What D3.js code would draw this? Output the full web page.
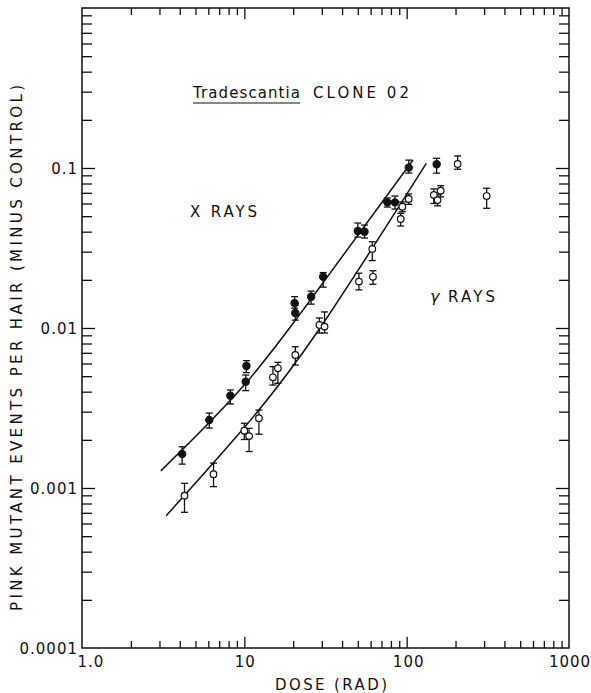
<!DOCTYPE html>
<html>
<head>
<meta charset="utf-8">
<script src="https://cdn.jsdelivr.net/npm/d3@7/dist/d3.min.js"></script>
<style>
html,body{margin:0;padding:0;background:#fff;}
svg{display:block;}
text{font-family:"DejaVu Sans",sans-serif;fill:#111;}
</style>
</head>
<body>
<svg id="chart" width="591" height="693"></svg>
<script>
// ---- data ----
// X rays (filled circles): dose (rad), value, lower, upper
const xrayDose  = [4.14, 6.08, 8.2, 10.2, 10.3, 20.4, 20.6, 25.8, 30.6, 50, 55, 76, 84.7, 103, 153];
const xrayValue = [0.00163, 0.00266, 0.00377, 0.00462, 0.00579, 0.0143, 0.0124, 0.0157, 0.0209, 0.0404, 0.0400, 0.061, 0.061, 0.1005, 0.1055];
const xrayLow   = [0.00141, 0.00237, 0.00335, 0.00406, 0.00526, 0.0133, 0.0112, 0.0141, 0.0180, 0.0370, 0.0365, 0.0570, 0.0554, 0.093, 0.0928];
const xrayHigh  = [0.00181, 0.00294, 0.00410, 0.00508, 0.00625, 0.0157, 0.0139, 0.0170, 0.0222, 0.0453, 0.0440, 0.0650, 0.0668, 0.112, 0.115];

// gamma rays (open circles)
const gammaDose  = [4.28, 6.46, 10.0, 10.7, 12.3, 15.0, 16.1, 20.6, 29.0, 31.2, 50.8, 62, 61.4, 91.9, 94, 103, 147, 162, 155, 206, 311];
const gammaValue = [0.000895, 0.00122, 0.00228, 0.00211, 0.00273, 0.00492, 0.0056, 0.00678, 0.01045, 0.0102, 0.0195, 0.0209, 0.0312, 0.048, 0.0573, 0.064, 0.0678, 0.0722, 0.063, 0.106, 0.0668];
const gammaLow   = [0.000705, 0.00102, 0.00201, 0.00169, 0.00217, 0.0044, 0.00451, 0.00587, 0.0093, 0.0093, 0.0173, 0.01876, 0.0264, 0.0434, 0.0533, 0.0593, 0.060, 0.0660, 0.0580, 0.0982, 0.056];
const gammaHigh  = [0.00107, 0.00143, 0.00254, 0.00236, 0.00307, 0.00573, 0.0061, 0.00764, 0.01155, 0.0126, 0.022, 0.0228, 0.0346, 0.0521, 0.0613, 0.0688, 0.0740, 0.0775, 0.0680, 0.119, 0.0747];

// fitted curves
const xrayCurveDose  = [3.06, 10.2, 30.9, 109.4];
const xrayCurveValue = [0.00128, 0.00451, 0.0195, 0.1122];
const gammaCurveDose  = [3.30, 9.9, 28.7, 132.3];
const gammaCurveValue = [0.000671, 0.00236, 0.00972, 0.107];

// axis ticks
const xMajorTicks = [1, 10, 100, 1000];
const xTickLabels = ["1.0", "10", "100", "1000"];
const yMajorTicks = [0.0001, 0.001, 0.01, 0.1, 1];
const yTickLabels = ["0.0001", "0.001", "0.01", "0.1", ""];

// ---- drawing ----
const svg = d3.select("#chart");
const L = 82, R = 569, T = 8, B = 648;
const x = d3.scaleLog().domain([1, 1000]).range([L, R]);
const y = d3.scaleLog().domain([0.0001, 1]).range([B, T]);

function minors(majors) {
  const out = [];
  for (let i = 0; i < majors.length - 1; i++)
    for (let k = 2; k <= 9; k++) out.push(majors[i] * k);
  return out;
}
const xMinor = minors(xMajorTicks);
const yMinor = minors(yMajorTicks);

function axis(gen, scale, vals, size, tx, ty) {
  const g = svg.append("g").attr("transform", `translate(${tx},${ty})`)
    .call(gen(scale).tickValues(vals).tickSizeInner(size).tickSizeOuter(0).tickFormat(""));
  g.select(".domain").remove();
  g.selectAll(".tick line").attr("stroke", "#111").attr("stroke-width", 1.3);
  return g;
}
// bottom / top
axis(d3.axisBottom, x, xMinor, -7, 0, B);
axis(d3.axisBottom, x, xMajorTicks.slice(1, 3), -11, 0, B);
axis(d3.axisTop, x, xMinor, -7, 0, T);
axis(d3.axisTop, x, xMajorTicks.slice(1, 3), -11, 0, T);
// left / right
axis(d3.axisLeft, y, yMinor, -10, L, 0);
axis(d3.axisLeft, y, yMajorTicks.slice(1, 4), -13, L, 0);
axis(d3.axisRight, y, yMinor, -10, R, 0);
axis(d3.axisRight, y, yMajorTicks.slice(1, 4), -13, R, 0);

// frame
svg.append("rect").attr("x", L).attr("y", T).attr("width", R - L).attr("height", B - T)
  .attr("fill", "none").attr("stroke", "#111").attr("stroke-width", 1.5);

// tick labels
const xLabOff = [9, 1, 2, 1];
svg.append("g").selectAll("text").data(xMajorTicks).join("text")
  .attr("x", (d, i) => x(d) + xLabOff[i]).attr("y", 667)
  .attr("text-anchor", "middle").attr("font-size", 15).attr("letter-spacing", 1)
  .text((d, i) => xTickLabels[i]);
svg.append("g").selectAll("text").data(yMajorTicks).join("text")
  .attr("x", 78).attr("y", d => y(d) + 5.5)
  .attr("text-anchor", "end").attr("font-size", 15).attr("letter-spacing", 1)
  .text((d, i) => yTickLabels[i]);

// axis titles
svg.append("text").attr("x", 331).attr("y", 690).attr("text-anchor", "middle")
  .attr("font-size", 15).attr("textLength", 112).attr("lengthAdjust", "spacing")
  .text("DOSE (RAD)");
svg.append("text").attr("transform", "translate(22,348) rotate(-90)")
  .attr("text-anchor", "middle").attr("font-size", 15)
  .attr("textLength", 526).attr("lengthAdjust", "spacing")
  .text("PINK MUTANT EVENTS PER HAIR (MINUS CONTROL)");

// annotations
svg.append("text").attr("x", 193).attr("y", 98).attr("font-size", 15)
  .attr("textLength", 107).attr("lengthAdjust", "spacing").text("Tradescantia");
svg.append("line").attr("x1", 193).attr("x2", 300).attr("y1", 103).attr("y2", 103)
  .attr("stroke", "#111").attr("stroke-width", 1.2);
svg.append("text").attr("x", 313).attr("y", 98).attr("font-size", 15)
  .attr("textLength", 96).attr("lengthAdjust", "spacing").text("CLONE 02");
svg.append("text").attr("x", 190).attr("y", 217).attr("font-size", 15)
  .attr("textLength", 67).attr("lengthAdjust", "spacing").text("X RAYS");
svg.append("text").attr("x", 430).attr("y", 302).attr("font-size", 16)
  .attr("font-style", "italic").text("γ");
svg.append("text").attr("x", 448).attr("y", 302).attr("font-size", 15)
  .attr("textLength", 47).attr("lengthAdjust", "spacing").text("RAYS");

// curves
const line = d3.line().x(d => x(d[0])).y(d => y(d[1])).curve(d3.curveNatural);
svg.append("path").datum(d3.zip(xrayCurveDose, xrayCurveValue)).attr("d", line)
  .attr("fill", "none").attr("stroke", "#111").attr("stroke-width", 1.5);
svg.append("path").datum(d3.zip(gammaCurveDose, gammaCurveValue)).attr("d", line)
  .attr("fill", "none").attr("stroke", "#111").attr("stroke-width", 1.5);

// error bars + points
function series(dose, val, lo, hi, filled) {
  const data = dose.map((d, i) => ({d, v: val[i], lo: lo[i], hi: hi[i]}));
  const g = svg.append("g");
  const eb = g.selectAll("g.eb").data(data).join("g").attr("class", "eb");
  eb.append("line").attr("x1", d => x(d.d)).attr("x2", d => x(d.d))
    .attr("y1", d => y(d.lo)).attr("y2", d => y(d.hi)).attr("stroke", "#111").attr("stroke-width", 1.3);
  eb.append("line").attr("x1", d => x(d.d) - 3.5).attr("x2", d => x(d.d) + 3.5)
    .attr("y1", d => y(d.lo)).attr("y2", d => y(d.lo)).attr("stroke", "#111").attr("stroke-width", 1.3);
  eb.append("line").attr("x1", d => x(d.d) - 3.5).attr("x2", d => x(d.d) + 3.5)
    .attr("y1", d => y(d.hi)).attr("y2", d => y(d.hi)).attr("stroke", "#111").attr("stroke-width", 1.3);
  g.selectAll("circle").data(data).join("circle")
    .attr("cx", d => x(d.d)).attr("cy", d => y(d.v)).attr("r", filled ? 3.6 : 3.3)
    .attr("fill", filled ? "#111" : "#fff").attr("stroke", "#111").attr("stroke-width", 1.2);
}
series(gammaDose, gammaValue, gammaLow, gammaHigh, false);
series(xrayDose, xrayValue, xrayLow, xrayHigh, true);
</script>
</body>
</html>
